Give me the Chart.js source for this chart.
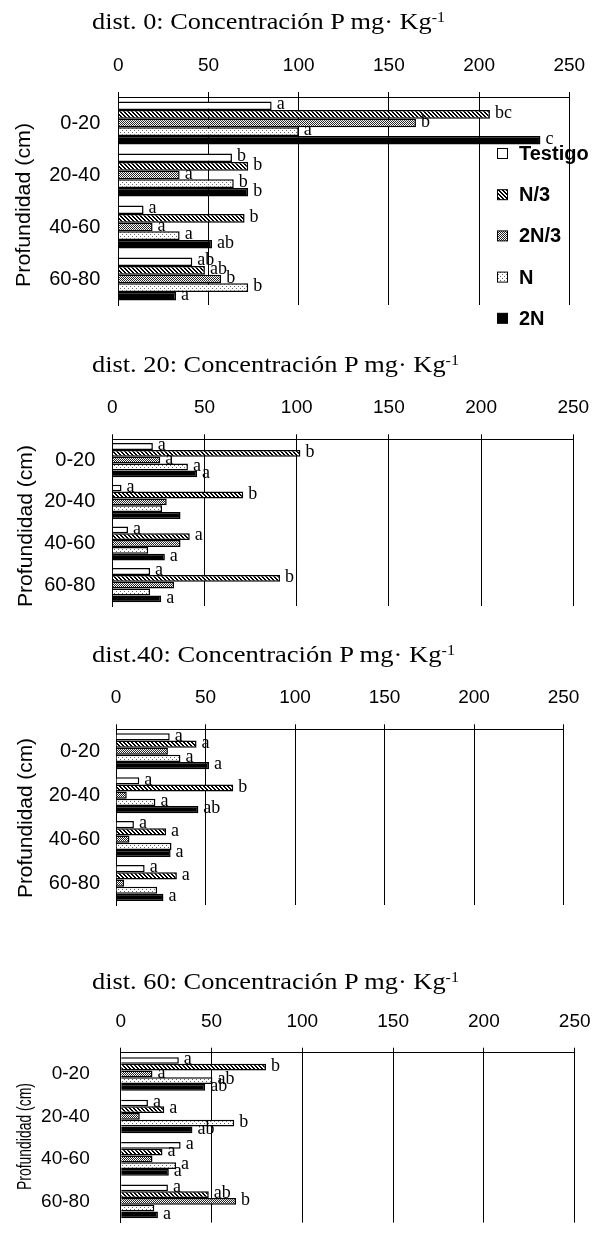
<!DOCTYPE html>
<html>
<head>
<meta charset="utf-8">
<script src="https://cdn.jsdelivr.net/npm/chart.js@4.4.1/dist/chart.umd.min.js"></script>
<style>
  html, body { margin: 0; padding: 0; background: #fff; width: 609px; height: 1252px; overflow: hidden; }
  body { position: relative; }
  canvas { position: absolute; left: 0; }
  .title {
    position: absolute; left: 92px; z-index: 2;
    font-family: "Liberation Serif", "Times New Roman", serif;
    font-size: 23px; line-height: 26px; white-space: nowrap; color: #000;
    transform-origin: 0 50%;
  }
  .title sup { font-size: 14px; vertical-align: top; position: relative; top: -4px; }
</style>
</head>
<body>
<div class="title" id="t0">dist. 0: Concentración P mg· Kg<sup>-1</sup></div>
<div class="title" id="t1">dist. 20: Concentración P mg· Kg<sup>-1</sup></div>
<div class="title" id="t2">dist.40: Concentración P mg· Kg<sup>-1</sup></div>
<div class="title" id="t3">dist. 60: Concentración P mg· Kg<sup>-1</sup></div>
<script>
// categorias y tratamientos
const depths = ['0-20', '20-40', '40-60', '60-80'];
const treatments = ['Testigo', 'N/3', '2N/3', 'N', '2N'];
const xTicks = [0, 50, 100, 150, 200, 250];

// valores P (mg/kg), una fila por tratamiento
const dist0Values = [
  [85, 63, 14, 41],
  [206, 72, 70, 48],
  [165, 34, 19, 57],
  [100, 64, 34, 72],
  [234, 72, 52, 32]
];
const dist0Letters = [
  ['a', 'b', 'a', 'ab'],
  ['bc', 'b', 'b', 'ab'],
  ['b', 'a', 'a', 'b'],
  ['a', 'b', 'a', 'b'],
  ['c', 'b', 'ab', 'a']
];

const dist20Values = [
  [22, 5, 8.5, 20.5],
  [102, 71, 42, 91],
  [26, 29.5, 37, 33.5],
  [41, 27, 19.5, 20.5],
  [46, 37, 28.5, 26.5]
];
const dist20Letters = [
  ['a', 'a', 'a', 'a'],
  ['b', 'b', 'a', 'b'],
  ['a', '', '', ''],
  ['a', '', '', ''],
  ['a', '', 'a', 'a']
];

const dist40Values = [
  [30, 13, 10, 16],
  [45, 65.5, 28, 34],
  [29, 6, 7.5, 4.5],
  [36, 22, 31, 23],
  [52, 46, 30.5, 26.5]
];
const dist40Letters = [
  ['a', 'a', 'a', 'a'],
  ['a', 'b', 'a', 'a'],
  ['', '', '', ''],
  ['a', 'a', '', ''],
  ['a', 'ab', 'a', 'a']
];

const dist60Values = [
  [32, 15, 33, 26],
  [80, 24, 23, 48.5],
  [17.5, 10.5, 17.5, 63.5],
  [50.5, 62.5, 30.5, 18.5],
  [46.5, 39.5, 26.5, 20.5]
];
const dist60Letters = [
  ['a', 'a', 'a', 'a'],
  ['b', 'a', 'a', 'ab'],
  ['a', '', '', 'b'],
  ['ab', 'b', 'a', ''],
  ['ab', 'ab', 'a', 'a']
];

// tramas de relleno tipo Excel
function makePattern(size, draw) {
  const c = document.createElement('canvas');
  c.width = size; c.height = size;
  const g = c.getContext('2d');
  g.fillStyle = '#fff';
  g.fillRect(0, 0, size, size);
  draw(g);
  return c.getContext('2d').createPattern(c, 'repeat');
}
const fills = [
  '#ffffff',
  makePattern(4, g => {
    g.fillStyle = '#000';
    for (let i = 0; i < 4; i++) { g.fillRect(i, i, 1, 1); g.fillRect((i + 1) % 4, i, 1, 1); }
  }),
  makePattern(2, g => {
    g.fillStyle = '#222';
    g.fillRect(0, 0, 1, 1); g.fillRect(1, 1, 1, 1);
  }),
  makePattern(4, g => {
    g.fillStyle = '#666';
    g.fillRect(0, 0, 1, 1); g.fillRect(2, 2, 1, 1);
  }),
  '#000000'
];

const panels = [
  { top: 0, height: 335, axisY: 97, bottom: 308, left: 118.3, right: 569.3, catPct: 0.83,
    labelSize: 20, labelPad: 18, yTitle: { x: 24, y: 205, len: 164 },
    values: dist0Values, letters: dist0Letters, legend: true },
  { top: 335, height: 300, axisY: 439.3, bottom: 619.3, left: 112.3, right: 573.3, catPct: 0.82,
    labelSize: 20, labelPad: 17, yTitle: { x: 26, y: 191, len: 162 },
    values: dist20Values, letters: dist20Letters },
  { top: 635, height: 300, axisY: 729.3, bottom: 905, left: 116, right: 563.5, catPct: 0.82,
    labelSize: 20, labelPad: 16, yTitle: { x: 26, y: 183, len: 160 },
    values: dist40Values, letters: dist40Letters },
  { top: 935, height: 330, axisY: 1052.7, bottom: 1259.5, left: 120.7, right: 574.7, catPct: 0.79,
    labelSize: 19, labelPad: 31, yTitle: { x: 25, y: 201.5, len: 107 },
    values: dist60Values, letters: dist60Letters }
];

const titleBoxes = [
  { top: 8.5, width: 353 },
  { top: 351.8, width: 367 },
  { top: 641.8, width: 363 },
  { top: 968.5, width: 367 }
];

function drawPanel(p) {
  const cv = document.createElement('canvas');
  cv.width = 609; cv.height = p.height;
  cv.style.top = p.top + 'px';
  document.body.appendChild(cv);

  const datasets = treatments.map((name, i) => ({
    label: name,
    data: p.values[i],
    backgroundColor: fills[i],
    borderColor: '#000',
    borderWidth: 1.5,
    categoryPercentage: p.catPct,
    barPercentage: 1
  }));

  const extras = {
    id: 'extras',
    afterDatasetsDraw(chart) {
      const ctx = chart.ctx;
      ctx.save();
      ctx.fillStyle = '#000';
      ctx.font = '18px "Liberation Serif", serif';
      ctx.textBaseline = 'middle';
      ctx.textAlign = 'left';
      chart.data.datasets.forEach((ds, i) => {
        chart.getDatasetMeta(i).data.forEach((bar, j) => {
          const t = p.letters[i][j];
          if (t) ctx.fillText(t, bar.x + 5, bar.y - 1);
        });
      });
      ctx.restore();
    },
    afterDraw(chart) {
      const ctx = chart.ctx;
      // titulo eje y
      ctx.save();
      ctx.fillStyle = '#000';
      ctx.font = '21px "Liberation Sans", Arial, sans-serif';
      ctx.textAlign = 'center';
      ctx.textBaseline = 'middle';
      ctx.translate(p.yTitle.x, p.yTitle.y);
      ctx.rotate(-Math.PI / 2);
      const w = ctx.measureText('Profundidad (cm)').width;
      ctx.scale(p.yTitle.len / w, 1);
      ctx.fillText('Profundidad (cm)', 0, 0);
      ctx.restore();

      if (p.legend) {
        ctx.save();
        ctx.font = 'bold 20px "Liberation Sans", Arial, sans-serif';
        ctx.textBaseline = 'middle';
        treatments.forEach((name, i) => {
          const cy = 153.5 + i * 41.2;
          ctx.fillStyle = fills[i];
          ctx.fillRect(497.5, cy - 5, 10, 10);
          ctx.strokeStyle = '#000';
          ctx.lineWidth = 1;
          ctx.strokeRect(497.5, cy - 5, 10, 10);
          ctx.fillStyle = '#000';
          ctx.fillText(name, 519, cy + 1);
        });
        ctx.restore();
      }
    }
  };

  new Chart(cv, {
    type: 'bar',
    data: { labels: depths, datasets },
    options: {
      indexAxis: 'y',
      responsive: false,
      animation: false,
      events: [],
      layout: { padding: { left: 0, top: 0, right: 609 - p.right, bottom: p.top + p.height - p.bottom } },
      plugins: { legend: { display: false }, tooltip: { enabled: false } },
      scales: {
        x: {
          position: 'top',
          min: 0, max: 250,
          afterBuildTicks: s => { s.ticks = xTicks.map(v => ({ value: v })); },
          afterFit: s => { s.height = p.axisY - p.top; },
          grid: { color: '#000', lineWidth: 1, tickLength: 5, tickColor: '#000' },
          border: { display: true, color: '#000', width: 1 },
          ticks: { color: '#000', font: { family: '"Liberation Sans", Arial, sans-serif', size: 19 }, padding: 15, maxRotation: 0 }
        },
        y: {
          afterFit: s => { s.width = p.left; },
          grid: { display: false, drawTicks: false },
          border: { display: true, color: '#000', width: 1 },
          ticks: { color: '#000', font: { family: '"Liberation Sans", Arial, sans-serif', size: p.labelSize }, padding: p.labelPad }
        }
      }
    },
    plugins: [extras]
  });
}

panels.forEach(drawPanel);

titleBoxes.forEach((b, i) => {
  const el = document.getElementById('t' + i);
  el.style.top = b.top + 'px';
  const w = el.getBoundingClientRect().width;
  el.style.transform = 'scaleX(' + (b.width / w) + ')';
});
</script>
</body>
</html>
